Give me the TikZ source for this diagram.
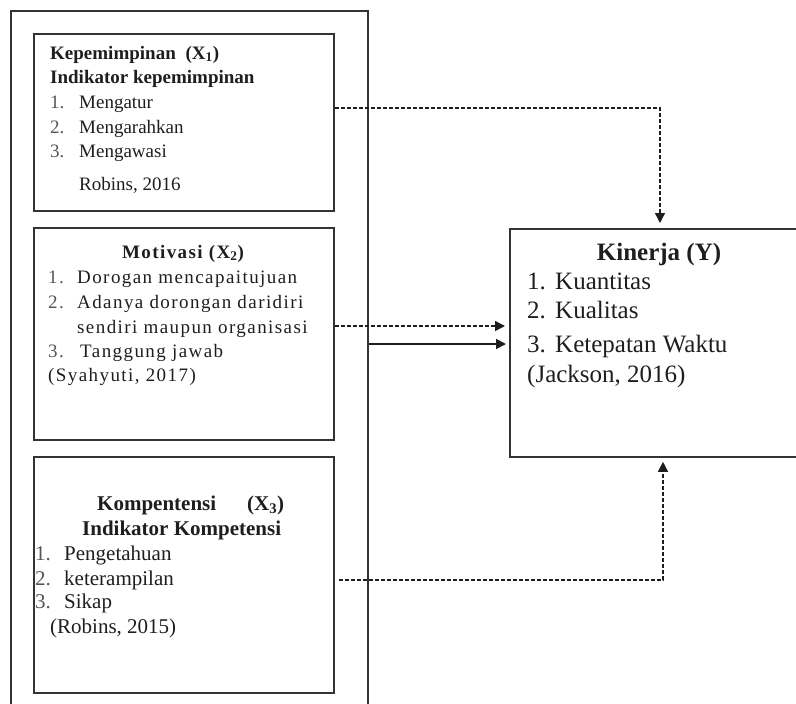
\documentclass[tikz,border=0pt]{standalone}
\usepackage{fontspec}
\setmainfont{Liberation Serif}
\newfontfamily\spacedfont[LetterSpace=7.5]{Liberation Serif}
\usetikzlibrary{arrows.meta}
\definecolor{ink}{HTML}{1E1E1E}
\definecolor{numgray}{HTML}{555555}
\definecolor{framec}{HTML}{333333}
\begin{document}
\begin{tikzpicture}[x=1pt,y=-1pt,
  boxframe/.style={draw=framec,line width=1.8pt,inner sep=0pt,anchor=north west},
  txt/.style={inner sep=0pt,anchor=base west,text=ink},
  fa/.style={txt,font=\fontsize{19}{23}\selectfont},
  fb/.style={txt,font=\spacedfont\fontsize{19}{23}\selectfont},
  fc/.style={txt,font=\fontsize{21}{25}\selectfont},
  fk/.style={txt,font=\fontsize{25}{30}\selectfont},
  numtxt/.style={text=numgray},
  dashline/.style={draw=ink,line width=1.4pt,dash pattern=on 4pt off 2pt},
  solidline/.style={draw=ink,line width=1.8pt},
  tipend/.style={-{Triangle[length=10pt,width=10pt]}}
]
\useasboundingbox (0,0) rectangle (796,704);
\clip (0,0) rectangle (796,704);

% frames
\node[boxframe,minimum width=357pt,minimum height=740pt] (outer) at (10,10) {};
\node[boxframe,minimum width=300pt,minimum height=177pt] (b1) at (33,33) {};
\node[boxframe,minimum width=300pt,minimum height=212pt] (b2) at (33,227) {};
\node[boxframe,minimum width=300pt,minimum height=236pt] (b3) at (33,456) {};
\node[boxframe,minimum width=320pt,minimum height=228pt] (ky) at (509,228) {};

% box 1
\node[fa,font=\bfseries\fontsize{19}{23}\selectfont] (t1a) at (50,59) {Kepemimpinan\hspace{5pt} (X\textsubscript{1})};
\node[fa,font=\bfseries\fontsize{19}{23}\selectfont] (t1b) at (50,83) {Indikator kepemimpinan};
\node[fa,numtxt] (n11) at (50,108) {1.};
\node[fa] (t11) at (79,108) {Mengatur};
\node[fa,numtxt] (n12) at (50,133) {2.};
\node[fa] (t12) at (79,133) {Mengarahkan};
\node[fa,numtxt] (n13) at (50,157) {3.};
\node[fa] (t13) at (79,157) {Mengawasi};
\node[fa] (t14) at (79,190) {Robins, 2016};

% box 2
\node[fb,anchor=base,font=\spacedfont\bfseries\fontsize{19}{23}\selectfont] (t2a) at (183,258) {Motivasi (X\textsubscript{2})};
\node[fb,numtxt] (n21) at (48,283) {1.};
\node[fb] (t21) at (77,283) {Dorogan mencapaitujuan};
\node[fb,numtxt] (n22) at (48,308) {2.};
\node[fb] (t22) at (77,308) {Adanya dorongan daridiri};
\node[fb] (t22b) at (77,333) {sendiri maupun organisasi};
\node[fb,numtxt] (n23) at (48,357) {3.};
\node[fb] (t23) at (80,357) {Tanggung jawab};
\node[fb] (t24) at (48,381) {(Syahyuti, 2017)};

% box 3
\node[fc,font=\bfseries\fontsize{21}{25}\selectfont] (t3a) at (97,510) {Kompentensi};
\node[fc,font=\bfseries\fontsize{21}{25}\selectfont] (t3x) at (247,510) {(X\textsubscript{3})};
\node[fc,font=\bfseries\fontsize{21}{25}\selectfont] (t3b) at (82,535) {Indikator Kompetensi};
\node[fc,numtxt] (n31) at (35,560) {1.};
\node[fc] (t31) at (64,560) {Pengetahuan};
\node[fc,numtxt] (n32) at (35,585) {2.};
\node[fc] (t32) at (64,585) {keterampilan};
\node[fc,numtxt] (n33) at (35,608) {3.};
\node[fc] (t33) at (64,608) {Sikap};
\node[fc] (t34) at (50,633) {(Robins, 2015)};

% Kinerja
\node[fk,anchor=base,font=\bfseries\fontsize{25}{30}\selectfont] (tka) at (659,260) {Kinerja (Y)};
\node[fk] (nk1) at (527,289) {1.};
\node[fk] (tk1) at (555,289) {Kuantitas};
\node[fk] (nk2) at (527,318) {2.};
\node[fk] (tk2) at (555,318) {Kualitas};
\node[fk] (nk3) at (527,352) {3.};
\node[fk] (tk3) at (555,352) {Ketepatan Waktu};
\node[fk] (tk4) at (527,382) {(Jackson, 2016)};

% connectors
\coordinate (c1) at (660,108);
\coordinate (c2) at (420,326);
\coordinate (c3) at (420,344);
\coordinate (c4) at (663,580);
\draw[dashline,tipend,shorten >=5pt] (b1.east |- c1) -- (c1) -- (c1 |- ky.north);
\draw[dashline,tipend,shorten >=4pt] (b2.east |- c2) -- (ky.west |- c2);
\draw[solidline,tipend,shorten >=3pt] (outer.east |- c3) -- (ky.west |- c3);
\draw[dashline,tipend,shorten <=4pt,shorten >=4pt] (b3.east |- c4) -- (c4) -- (c4 |- ky.south);
\end{tikzpicture}
\end{document}
